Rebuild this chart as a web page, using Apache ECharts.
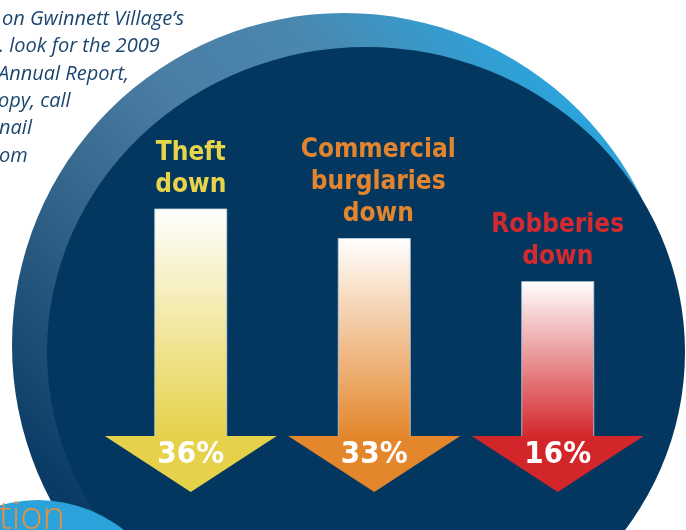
<!DOCTYPE html>
<html><head><meta charset="utf-8">
<script src="https://cdn.jsdelivr.net/npm/echarts@6/dist/echarts.min.js"></script>
<style>html,body{margin:0;padding:0;background:#fff;overflow:hidden}#c{width:686px;height:530px}</style>
</head><body><div id="c"></div>
<script>
// ---- data ----
const categories = ['Theft', 'Commercial burglaries', 'Robberies'];
const labelLines = [['Theft', 'down'], ['Commercial', 'burglaries', 'down'], ['Robberies', 'down']];
const percentDown = [36, 33, 16];
// arrow shaft lengths as drawn (relative, tallest = 100)
const arrowHeight = [100, 87, 68];
const introLines = ['on Gwinnett Village\u2019s', '. look for the 2009', 'Annual Report,', 'opy, call', 'nail', 'om'];
const footerWord = 'tion';

// ---- styles ----
const arrowColors = ['#e6d24a', '#e4862b', '#d3262b'];
const labelColors = ['#e8d44a', '#e3852e', '#d42a2f'];

const chart = echarts.init(document.getElementById('c'), null, {renderer: 'canvas'});

function renderItem(params, api) {
  const i = params.dataIndex;
  const top = api.coord([api.value(0), api.value(1)]);
  const base = api.coord([api.value(0), 0]);
  const cx = top[0];
  const sw = 72, hw = 86, hh = 56;
  return {
    type: 'group',
    children: [
      {type: 'rect', shape: {x: cx - sw / 2, y: top[1], width: sw, height: base[1] - top[1] + 1},
        style: {fill: {type: 'linear', x: 0, y: 0, x2: 0, y2: 1,
          colorStops: [{offset: 0, color: '#ffffff'}, {offset: 1, color: arrowColors[i]}]},
          stroke: 'rgba(190,210,228,0.8)', lineWidth: 1}},
      {type: 'polygon', shape: {points: [[cx - hw, base[1]], [cx + hw, base[1]], [cx, base[1] + hh]]},
        style: {fill: arrowColors[i]}},
      {type: 'text', x: cx, y: base[1] + 19,
        style: {text: percentDown[i] + '%', fill: '#ffffff', font: 'bold 31px "DejaVu Sans Condensed", "DejaVu Sans"',
          align: 'center', verticalAlign: 'middle'}},
      {type: 'text', x: cx + (i === 1 ? 4 : 0), y: top[1] - 8,
        style: {text: labelLines[i].join('\n'), fill: labelColors[i], font: 'bold 26px "DejaVu Sans Condensed", "DejaVu Sans"',
          lineHeight: 32, align: 'center', verticalAlign: 'bottom'}}
    ]
  };
}

const ringGradient = {type: 'linear', x: 0, y: 1, x2: 1, y2: 0, colorStops: [
  {offset: 0, color: '#02365f'}, {offset: 0.18, color: '#093b64'}, {offset: 0.25, color: '#1a4a72'},
  {offset: 0.42, color: '#36678d'}, {offset: 0.55, color: '#4a7ca3'}, {offset: 0.7, color: '#4a87ae'},
  {offset: 0.76, color: '#4092c0'}, {offset: 0.85, color: '#2ca3da'}, {offset: 1, color: '#25a6df'}]};

const graphics = [
  {type: 'circle', shape: {cx: 344, cy: 345, r: 332}, style: {fill: ringGradient}, z: -10},
  {type: 'circle', shape: {cx: 0, cy: 0, r: 305}, x: 366, y: 352, scaleX: 319 / 305, scaleY: 1,
    style: {fill: '#03375f'}, z: -9},
  {type: 'circle', shape: {cx: 38, cy: 638, r: 138}, style: {fill: '#2ba2d9'}, z: -8},
  {type: 'text', x: -1, y: 537, z: -7, style: {text: footerWord, fill: '#e8903c',
    font: '300 38px "Open Sans"', align: 'left', verticalAlign: 'bottom'}}
];
const introX = [2, -1, -2, -2, -1, -1];
introLines.forEach((t, k) => {
  graphics.push({type: 'text', x: introX[k], y: 19 + k * 27.4, z: -7,
    style: {text: t, fill: '#1b4670', font: 'italic 20px "Open Sans"', align: 'left', verticalAlign: 'middle'}});
});

chart.setOption({
  animation: false,
  backgroundColor: '#ffffff',
  graphic: {elements: graphics},
  grid: {left: 99, right: 36.5, top: 209, bottom: 94},
  xAxis: {type: 'category', data: categories, show: false, boundaryGap: true},
  yAxis: {type: 'value', min: 0, max: 100, show: false},
  series: [{
    type: 'custom',
    renderItem: renderItem,
    clip: false,
    data: categories.map((c, i) => [i, arrowHeight[i]])
  }]
});
</script></body></html>
